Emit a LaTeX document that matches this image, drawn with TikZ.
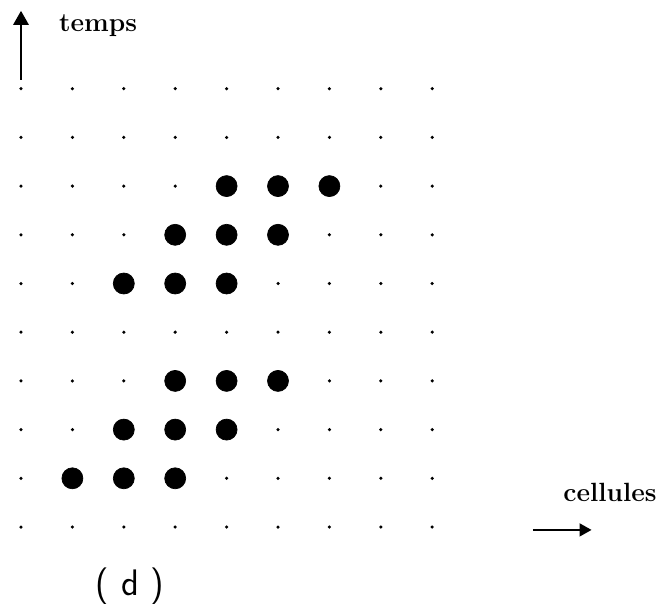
\documentclass[tikz,border=0pt]{standalone}
\usetikzlibrary{arrows.meta}

\begin{document}
\begin{tikzpicture}[x=1.028cm, y=0.974cm]
\useasboundingbox (-0.42cm, -1.52cm) rectangle (12.72cm, 10.54cm);
% grille des cellules
\foreach \x in {0, 1, ..., 8}
    \foreach \y in {0, 1, ..., 9}
        \fill (\x, \y) circle(0.035cm);
% premier motif
\foreach \x in {1, 2, 3}
    \draw[fill=black] (\x, 1) circle(0.21cm);
\foreach \x in {2, 3, 4}
    \draw[fill=black] (\x, 2) circle(0.21cm);
\foreach \x in {3, 4, 5}
    \draw[fill=black] (\x, 3) circle(0.21cm);
% second motif
\foreach \x in {2, 3, 4}
    \draw[fill=black] (\x, 5) circle(0.21cm);
\foreach \x in {3, 4, 5}
    \draw[fill=black] (\x, 6) circle(0.21cm);
\foreach \x in {4, 5, 6}
    \draw[fill=black] (\x, 7) circle(0.21cm);
% axes
\coordinate (t0) at (0, 9.18);
\coordinate (t1) at (0, 10.6);
\draw[line width=1.6pt, -{Triangle[width=3mm, length=2.8mm]}] (t0) -- (t1);
\node[font=\fontsize{15}{17}\selectfont\bfseries] (temps) at (1.5, 10.29) {temps};
\coordinate (c0) at (9.96, -0.06);
\coordinate (c1) at (11.1, -0.06);
\draw[line width=0.9pt, -{Triangle[width=2.6mm, length=2.4mm]}] (c0) -- (c1);
\node[font=\fontsize{15}{18}\selectfont\bfseries] (cellules) at (11.46, 0.7) {cellules};
\node[font=\fontsize{21}{24}\selectfont\sffamily] (d) at (2.12, -1.22) {( d )};
\end{tikzpicture}
\end{document}
